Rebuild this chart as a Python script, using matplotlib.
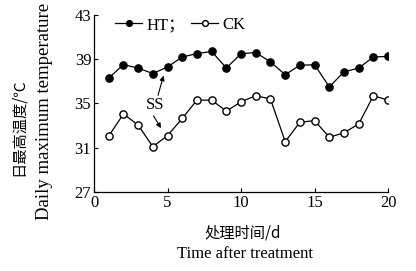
import matplotlib
matplotlib.use('Agg')
import matplotlib.pyplot as plt

plt.rcParams['font.family'] = ['Liberation Serif', 'Noto Sans CJK SC']

days = list(range(1, 21))
ht = [37.3, 38.5, 38.2, 37.7, 38.3, 39.2, 39.5, 39.7, 38.2, 39.5,
      39.6, 38.75, 37.6, 38.45, 38.5, 36.5, 37.85, 38.2, 39.2, 39.25]
ck = [32.05, 34.05, 33.05, 31.1, 32.1, 33.65, 35.3, 35.3, 34.3, 35.15,
      35.7, 35.4, 31.55, 33.3, 33.45, 31.95, 32.35, 33.15, 35.7, 35.3]
yticks = [27, 31, 35, 39, 43]
xticks = [0, 5, 10, 15, 20]

fig = plt.figure(figsize=(4.16, 2.71), dpi=100)
ax = fig.add_axes([0.226, 0.2915, 0.707, 0.6535])

ax.plot(days, ht, '-o', color='black', lw=0.9, ms=5.2, mfc='black', mec='black',
        label='HT\uff1b')
ax.plot(days, ck, '-o', color='black', lw=0.9, ms=5.2, mfc='white', mec='black',
        mew=1.0, label='CK')

ax.set_xlim(0, 20)
ax.set_ylim(27, 43)
ax.set_xticks(xticks)
ax.set_yticks(yticks)
ax.tick_params(direction='in', length=3, width=0.8, labelsize=12, pad=2)
for s in ['top', 'right']:
    ax.spines[s].set_visible(False)
for s in ['left', 'bottom']:
    ax.spines[s].set_linewidth(0.9)

ax.legend(loc='center left', bbox_to_anchor=(0.072, 0.943), ncol=2, frameon=False,
          handlelength=1.6, handletextpad=0.25, columnspacing=0.4,
          borderpad=0, borderaxespad=0, markerscale=0.8,
          prop={'family': ['Liberation Serif', 'Noto Sans CJK SC'], 'size': 12})

# SS annotation with arrows to day 5 points
ax.text(4.15, 34.85, 'SS', fontsize=12, ha='center', va='center')
ax.annotate('', xy=(4.78, 37.75), xytext=(4.3, 35.5),
            arrowprops=dict(arrowstyle='-|>', color='black', lw=0.8, mutation_scale=7))
ax.annotate('', xy=(4.65, 32.55), xytext=(3.95, 34.1),
            arrowprops=dict(arrowstyle='-|>', color='black', lw=0.8, mutation_scale=7))

fig.text(18 / 416, 1 - 127 / 271, '日最高温度/\u2103', rotation=90, ha='center', va='center',
         fontsize=11, family=['Noto Sans CJK SC', 'DejaVu Sans'])
fig.text(45 / 416, 1 - 111 / 271, 'Daily maximum temperature', rotation=90, ha='center',
         va='center', fontsize=13.5)
fig.text(243 / 416, 1 - 233 / 271, '处理时间/d', ha='center', va='center', fontsize=11,
         family=['Noto Sans CJK SC', 'Liberation Serif'])
fig.text(245 / 416, 1 - 254 / 271, 'Time after treatment', ha='center', va='center',
         fontsize=12)

fig.savefig('out.png', dpi=100)
